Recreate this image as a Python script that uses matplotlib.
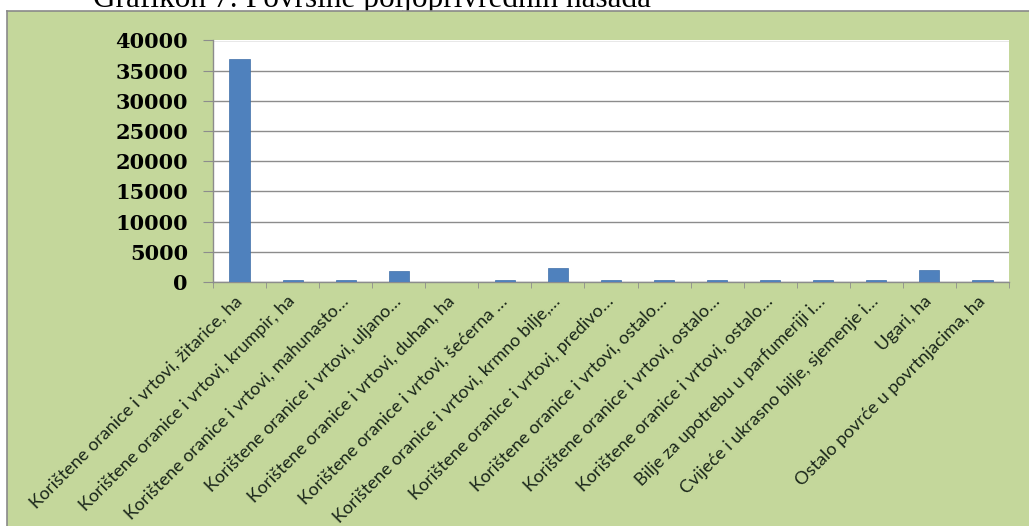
import matplotlib
matplotlib.use("Agg")
import matplotlib.pyplot as plt
from matplotlib.patches import Rectangle
from matplotlib.ticker import FixedLocator

# data
categories = [
    "Korištene oranice i vrtovi, žitarice, ha",
    "Korištene oranice i vrtovi, krumpir, ha",
    "Korištene oranice i vrtovi, mahunasto…",
    "Korištene oranice i vrtovi, uljano…",
    "Korištene oranice i vrtovi, duhan, ha",
    "Korištene oranice i vrtovi, šećerna …",
    "Korištene oranice i vrtovi, krmno bilje,…",
    "Korištene oranice i vrtovi, predivo…",
    "Korištene oranice i vrtovi, ostalo…",
    "Korištene oranice i vrtovi, ostalo…",
    "Korištene oranice i vrtovi, ostalo…",
    "Bilje za upotrebu u parfumeriji i…",
    "Cvijeće i ukrasno bilje, sjemenje i…",
    "Ugari, ha",
    "Ostalo povrće u povrtnjacima, ha",
]
values = [37000, 250, 250, 1750, 0, 250, 2250, 250, 250, 250, 250, 250, 250, 2000, 250]
yticks = [0, 5000, 10000, 15000, 20000, 25000, 30000, 35000, 40000]
title = "Grafikon 7: Površine poljoprivrednih nasada"

W, H = 1029, 526
fig = plt.figure(figsize=(W / 100, H / 100), dpi=100)
fig.patch.set_facecolor("white")

# title sits above the chart frame and is cut off at the top of the picture
fig.text(93 / W, 1 - 7.5 / H, title, fontsize=22.5, family="Liberation Serif",
         va="baseline", ha="left", color="black", zorder=-20)

# green chart area (runs off the right and bottom edges)
bg = fig.add_axes([0, 0, 1, 1], zorder=-10)
bg.set_xlim(0, W)
bg.set_ylim(H, 0)
bg.axis("off")
bg.add_patch(Rectangle((7, 11), W, H, facecolor="#C4D79B", linewidth=0))
bg.plot([7, W], [11, 11], color="#8a8a8a", linewidth=1.2)
bg.plot([7, 7], [11, H], color="#8a8a8a", linewidth=1.2)

ax = fig.add_axes([213 / W, 1 - 282 / H, (1009 - 213) / W, (282 - 40.5) / H])
ax.set_facecolor("white")

x = list(range(len(categories)))
ax.bar(x, values, width=0.38, color="#4F81BD", edgecolor="#3f6fa8", linewidth=0.5, zorder=3)

ax.set_xlim(-0.5, len(categories) - 0.5)
ax.set_ylim(0, 40000)
ax.set_yticks(yticks)
ax.yaxis.grid(True, color="#8c8c8c", linewidth=1, zorder=0)
ax.set_axisbelow(True)

for s in ["top", "right"]:
    ax.spines[s].set_visible(False)
for s in ["left", "bottom"]:
    ax.spines[s].set_color("#8c8c8c")
    ax.spines[s].set_linewidth(1)

ax.tick_params(axis="y", length=7, color="#8c8c8c", pad=11, labelsize=15)
for lab in ax.get_yticklabels():
    lab.set_fontfamily("DejaVu Serif")
    lab.set_fontweight("bold")

ax.set_xticks(x)
ax.set_xticklabels(categories, rotation=45, ha="right", va="center",
                   rotation_mode="anchor", fontsize=13, family=["Lato", "DejaVu Sans"],
                   color="#1a261a")
ax.tick_params(axis="x", which="major", length=0, pad=12)
ax.xaxis.set_minor_locator(FixedLocator([i - 0.5 for i in range(len(categories) + 1)]))
ax.tick_params(axis="x", which="minor", length=4, color="#8c8c8c")

fig.savefig("out.png", dpi=100, facecolor=fig.get_facecolor())
